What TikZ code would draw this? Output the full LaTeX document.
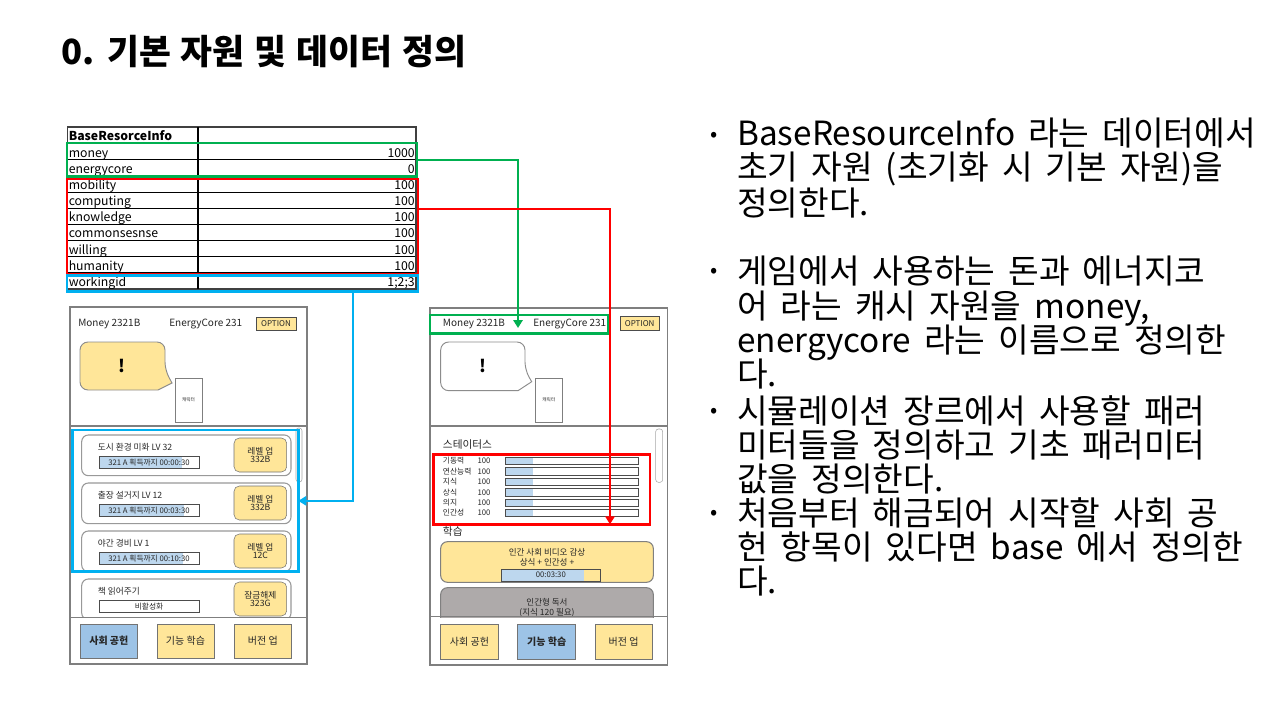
\documentclass[tikz,border=0pt]{standalone}
\usepackage{fontspec}
\setmainfont{Noto Sans CJK KR}
\usetikzlibrary{fit,arrows.meta}
\definecolor{yel}{HTML}{FFE699}
\definecolor{selb}{HTML}{9DC3E6}
\definecolor{barb}{HTML}{BDD7EE}
\definecolor{cg}{HTML}{00B050}
\definecolor{cb}{HTML}{00B0F0}
\definecolor{cr}{HTML}{FF0000}
\definecolor{frm}{HTML}{7F7F7F}
\definecolor{gcard}{HTML}{AEAAAA}
\definecolor{txt}{HTML}{262626}
\newcommand\myfs[1]{\fontsize{#1}{#1}\selectfont}
\tikzset{
  fitbox/.style={inner sep=0pt, outer sep=0pt},
  hl/.style={fitbox, draw=#1, line width=2.2pt},
  conn/.style={draw=#1, line width=1.5pt, -{Triangle[width=7pt,length=6pt]}},
  cell/.style={inner sep=0pt, font=\myfs{9.2}},
  ui/.style={inner sep=0pt, font=\myfs{7.5}, text=txt},
  ybtn/.style={fitbox, draw=black!55, fill=yel},
  bbtn/.style={fitbox, draw=black!55, fill=selb},
  card/.style={draw=gray!80, line width=0.8pt, fill=white, rounded corners=5pt},
  barframe/.style={draw=black!70, line width=0.5pt},
  body/.style={anchor=base west, inner sep=0pt, font={\myfs{25}\spaceskip=9.75pt\relax}},
  bul/.style={inner sep=0pt, font=\myfs{16}},
}
\newcommand\lcard[7]{%
  \draw[card] (81.7,#2) rectangle (291,{#2+40.7});
  \node[ui, anchor=west, font=\myfs{6.5}] (#1t) at (97.7,{#2+12.7}) {#3};
  \fill[barb] (99,{#2+21.7}) rectangle (#5,{#2+33});
  \draw[barframe] (99,{#2+21.7}) rectangle (199,{#2+33});
  \node[ui, font=\myfs{5.8}] (#1b) at (149,{#2+27.4}) {#4};
  \node[ybtn, rounded corners=4pt, fit={(234,{#2+3}) (286.7,{#2+37})}] (#1n) {};
  \node[ui, align=center, font=\myfs{6.5}] (#1l) at (#1n) {#6\\#7};
}
\begin{document}
\begin{tikzpicture}[x=0.75pt,y=-0.75pt]
\useasboundingbox (0,0) rectangle (1280,720);
\fill[white] (0,0) rectangle (1280,720);

% title
\node[anchor=base west, inner sep=0pt, font={\myfs{26}\bfseries\spaceskip=7.5pt\relax}] (title) at (61,65) {0. 기본 자원 및 데이터 정의};

% ---------- table ----------
\foreach \i in {1,...,9}{
  \draw[black, line width=0.6pt] (67.3,{127.3+\i*16.17}) -- (416,{127.3+\i*16.17});
}
\draw[black!75, line width=1.2pt] (67.3,127.3) rectangle (416,289);
\draw[black, line width=0.8pt] (198,127.3) -- (198,289);
\node[cell, anchor=base west, font={\myfs{9.2}\bfseries}] (h0) at (68.5,{127.3+16.17-2.5}) {BaseResorceInfo};
\foreach \i/\k/\v in {1/money/1000, 2/energycore/0, 3/mobility/100, 4/computing/100, 5/knowledge/100, 6/commonsesnse/100, 7/willing/100, 8/humanity/100, 9/workingid/{1;2;3}}{
  \node[cell, anchor=base west] (k\i) at (68.5,{127.3+(\i+1)*16.17-2.5}) {\k};
  \node[cell, anchor=base east] (v\i) at (415,{127.3+(\i+1)*16.17-2.5}) {\v};
}
\node[hl=cg, fit={(67,143) (417,176.5)}] (tg) {};
\node[hl=cr, fit={(67,179) (418,274)}] (tr) {};
\node[hl=cb, fit={(67,275.5) (418,291.5)}] (tb) {};

% ---------- left phone ----------
\node[fitbox, draw=frm, line width=0.8pt, fill=white, fit={(70,307) (307,664)}] (lphone) {};
\node[ui, anchor=west] (lmoney) at (78,324) {Money 2321B};
\node[ui, anchor=west] (lenergy) at (169,324) {EnergyCore 231};
\node[ybtn, draw=black!70, fit={(256,317) (296,330)}] (lopt) {};
\node[ui, font=\myfs{6}] (loptt) at (lopt) {OPTION};
\draw[draw=black!45, fill=yel, line width=0.7pt] (80,366) [rounded corners=6pt] -- (80,342) -- (165,342) -- (165,370) [sharp corners] -- (172,383) -- (158,390) [rounded corners=6pt] -- (80,390) -- cycle;
\node[inner sep=0pt, font={\myfs{13}\bfseries}] (lexcl) at (122,366) {!};
\node[fitbox, draw=frm, fill=white, fit={(175,378) (202,422)}] (lchar) {};
\node[ui, font=\myfs{3.5}] (lchart) at (lchar) {캐릭터};
\draw[frm, line width=0.8pt] (70,426) -- (307,426);
\begin{scope}
  \clip (70,427) rectangle (307,617);
  \lcard{c1}{435}{도시 환경 미화 LV 32}{321 A 획득까지 00:00:30}{181.7}{레벨 업}{332B}
  \lcard{c2}{483}{출장 설거지 LV 12}{321 A 획득까지 00:03:30}{184}{레벨 업}{332B}
  \lcard{c3}{531}{야간 경비 LV 1}{321 A 획득까지 00:10:30}{183}{레벨 업}{12C}
  \lcard{c4}{579}{책 읽어주기}{비활성화}{99}{잠금해제}{323G}
\end{scope}
\draw[draw=gray!70, fill=white, rounded corners=2pt] (296,428) rectangle (302,482);
\node[hl=cb, fit={(72.3,430) (298.3,571.7)}] (lbox) {};
\draw[frm, line width=0.8pt] (70,617.3) -- (307,617.3);
\node[bbtn, fit={(80,624) (137.7,658)}] (lb1) {};
\node[ui, font={\myfs{7.5}\bfseries}] (lb1t) at (lb1) {사회 공헌};
\node[ybtn, fit={(157,624) (214,658)}] (lb2) {};
\node[ui] (lb2t) at (lb2) {기능 학습};
\node[ybtn, fit={(234,624) (291.7,658)}] (lb3) {};
\node[ui] (lb3t) at (lb3) {버전 업};

% ---------- right phone ----------
\node[fitbox, draw=frm, line width=0.8pt, fill=white, fit={(430,308) (667.7,665)}] (rphone) {};
\node[ui, anchor=west] (rmoney) at (442.7,324) {Money 2321B};
\node[ui, anchor=west] (renergy) at (533,324) {EnergyCore 231};
\node[hl=cg, fit={(430,315) (608.3,333.3)}] (rg) {};
\node[ybtn, draw=black!70, fit={(620,316.7) (659.3,330.7)}] (ropt) {};
\node[ui, font=\myfs{6}] (roptt) at (ropt) {OPTION};
\draw[draw=black!45, fill=white, line width=0.7pt] (440.7,366) [rounded corners=6pt] -- (440.7,342) -- (525,342) -- (525,370) [sharp corners] -- (531.7,381.7) -- (518,390.7) [rounded corners=6pt] -- (440.7,390.7) -- cycle;
\node[inner sep=0pt, font={\myfs{13}\bfseries}] (rexcl) at (483,366) {!};
\node[fitbox, draw=frm, fill=white, fit={(535,378) (562.7,422.3)}] (rchar) {};
\node[ui, font=\myfs{3.5}] (rchart) at (rchar) {캐릭터};
\draw[frm, line width=0.8pt] (430,426) -- (667.7,426);
\draw[draw=gray!70, fill=white, rounded corners=2pt] (655.7,429) rectangle (662.7,482.3);
\node[ui, anchor=west, font=\myfs{8}] (rstat) at (442.7,445) {스테이터스};
\foreach \i/\lab/\yy in {1/기동력/460.7, 2/연산능력/471.3, 3/지식/481.7, 4/상식/492.3, 5/의지/502.7, 6/인간성/513}{
  \node[ui, anchor=west, font=\myfs{5.8}] (sl\i) at (442.7,\yy) {\lab};
  \node[ui, anchor=west, font=\myfs{5.8}] (sv\i) at (477.3,\yy) {100};
  \fill[barb] (505,{\yy-3.6}) rectangle (533.3,{\yy+3.6});
  \draw[barframe] (505,{\yy-3.6}) rectangle (638.3,{\yy+3.6});
}
\node[ui, anchor=west, font=\myfs{8}] (rlearn) at (442.7,531) {학습};
\begin{scope}
  \clip (430,427) rectangle (667.7,617);
  \draw[card, fill=yel, draw=black!50] (440.7,541.7) rectangle (653.3,582.3);
  \node[ui, font=\myfs{6.4}] (y1) at (547,552.3) {인간 사회 비디오 감상};
  \node[ui, font=\myfs{6.4}] (y2) at (547,562.3) {상식 + 인간성 +};
  \fill[barb] (501,569.3) rectangle (584,581);
  \draw[barframe] (501,569.3) rectangle (600.7,581);
  \node[ui, font=\myfs{5.8}] (y3) at (550.8,575.2) {00:03:30};
  \draw[card, fill=gcard, draw=black!50] (440.7,587.7) rectangle (653.3,640);
  \node[ui, font=\myfs{6.4}] (g1) at (547,602.7) {인간형 독서};
  \node[ui, font=\myfs{6.4}] (g2) at (547,612.7) {(지식 120 필요)};
\end{scope}
\node[hl=cr, fit={(433.3,454.3) (650,524.3)}] (rs) {};
\draw[frm, line width=0.8pt] (430,616.7) -- (667.7,616.7);
\node[ybtn, fit={(440.7,624.3) (498.3,659.3)}] (rb1) {};
\node[ui] (rb1t) at (rb1) {사회 공헌};
\node[bbtn, fit={(517.7,624.3) (575.7,659.3)}] (rb2) {};
\node[ui, font={\myfs{7.5}\bfseries}] (rb2t) at (rb2) {기능 학습};
\node[ybtn, fit={(595,624.3) (652.3,659.3)}] (rb3) {};
\node[ui] (rb3t) at (rb3) {버전 업};

% ---------- connectors ----------
\path (518,0) coordinate (gx) (610,0) coordinate (rx) (353,0) coordinate (bx);
\coordinate (gEnd) at (518,328);
\draw[conn=cg] (tg.east) -| (gEnd);
\draw[conn=cr] ([yshift=13pt]tr.east) -| (rs.south -| rx);
\draw[conn=cb] (tb.south -| bx) |- (lbox.east);

% ---------- bullet text ----------
\node[bul] (b1) at (714,137) {•};
\node[body] (t1) at (737,146) {BaseResourceInfo 라는 데이터에서};
\node[body] (t2) at (737,180) {초기 자원 (초기화 시 기본 자원)을};
\node[body] (t3) at (737,215) {정의한다.};
\node[bul] (b2) at (714,273) {•};
\node[body] (t4) at (737,283) {게임에서 사용하는 돈과 에너지코};
\node[body] (t5) at (737,318) {어 라는 캐시 자원을 money,};
\node[body] (t6) at (737,352) {energycore 라는 이름으로 정의한};
\node[body] (t7) at (737,386) {다.};
\node[bul] (b3) at (714,413) {•};
\node[body] (t8) at (737,423) {시뮬레이션 장르에서 사용할 패러};
\node[body] (t9) at (737,457) {미터들을 정의하고 기초 패러미터};
\node[body] (t10) at (737,491) {값을 정의한다.};
\node[bul] (b4) at (714,515) {•};
\node[body] (t11) at (737,525) {처음부터 해금되어 시작할 사회 공};
\node[body] (t12) at (737,559) {헌 항목이 있다면 base 에서 정의한};
\node[body] (t13) at (737,593) {다.};
\end{tikzpicture}
\end{document}
